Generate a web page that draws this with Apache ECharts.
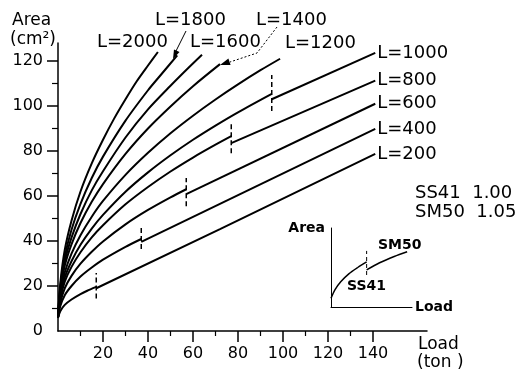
<!DOCTYPE html>
<html>
<head>
<meta charset="utf-8">
<script src="https://cdn.jsdelivr.net/npm/echarts@6/dist/echarts.min.js"></script>
<style>
  html, body { margin: 0; padding: 0; background: #fff; }
  #chart { width: 520px; height: 377px; }
</style>
</head>
<body>
<div id="chart"></div>
<script>
// values: [load (ton), area (cm2)]
const l2000 = [[0, 6], [1, 21], [3, 36], [6, 49], [10, 62], [15, 74.5], [20, 85], [25, 94.5], [30, 103], [35, 111], [40, 118], [44.4, 124]];
const l1800 = [[0, 6], [1, 19.5], [3, 33], [6, 45], [10, 56.5], [15, 68], [20, 77.5], [30, 93.5], [40, 107], [45, 113], [53, 122.5]];
const l1600 = [[0, 6], [1, 18.5], [3, 31], [6, 41.5], [10, 52], [15, 62.5], [20, 71], [30, 86], [40, 98.5], [50, 109], [58, 117], [64, 122.8]];
const l1400 = [[0, 6], [1, 17.5], [3, 29], [6, 38.5], [10, 48], [15, 57.4], [20, 65.3], [30, 78.7], [40, 90], [50, 99.8], [60, 108.8], [72, 118.6]];
const l1200 = [[0, 6], [1, 16.5], [3, 26], [6, 34.4], [10, 42.6], [15, 50.8], [20, 57.8], [30, 69.4], [40, 79.2], [50, 87.9], [60, 95.7], [70, 102.9], [80, 109.6], [90, 115.9], [98.7, 121]];

// curves with a material change (SS41 -> SM50): before and after the jump
const l1000a = [[0, 6], [1, 15], [3, 23.7], [6, 31], [10, 38.3], [15, 45.5], [20, 51.6], [30, 61.9], [40, 70.5], [50, 78.1], [60, 85], [70, 91.3], [80, 97.2], [95, 105.4]];
const l1000b = [[95, 103], [141, 123.6]];
const l800a = [[0, 6], [1, 14], [3, 21.9], [6, 28.5], [10, 35], [15, 41.6], [20, 47], [30, 56.3], [40, 64], [50, 70.9], [60, 77.1], [70, 82.8], [77, 86.6]];
const l800b = [[77, 83.5], [141, 111.3]];
const l600a = [[0, 6], [1, 12.5], [3, 19], [6, 24.5], [10, 29.9], [15, 35.2], [20, 39.8], [30, 47.4], [40, 53.8], [50, 59.4], [57, 63]];
const l600b = [[57, 60.8], [141, 101]];
const l400a = [[0, 6], [1, 11], [3, 15.9], [6, 20], [10, 24.2], [15, 28.2], [20, 31.7], [30, 37.4], [37, 40.9]];
const l400b = [[37, 39.6], [141, 89.8]];
const l200a = [[0, 5.8], [1, 8.8], [3, 11.6], [6, 14], [10, 16.4], [13, 17.9], [17, 19.6]];
const l200b = [[17, 19], [72, 45.3], [141, 78.7]];

// dashed marks at the jumps
const jumpLoad = [17, 37, 57, 77, 95];
const jumpLow = [14.5, 36.5, 55.5, 79, 97.8];
const jumpHigh = [25.8, 46.7, 68, 92.4, 113.8];

const xTicks = [20, 40, 60, 80, 100, 120, 140];
const xMinor = [10, 30, 50, 70, 90, 110, 130];
const yTicks = [20, 40, 60, 80, 100, 120];
const yLabels = [0, 20, 40, 60, 80, 100, 120];
const yMinor = [10, 30, 50, 70, 90, 110];

// small sketch in the corner (arbitrary units)
const insetSS41 = [[0, 1.1], [0.5, 2.2], [1.2, 3.2], [2.2, 4.2], [3.3, 5], [4.4, 5.7]];
const insetSM50 = [[4.4, 4.7], [6, 5.6], [7.8, 6.4], [9.4, 7]];
const insetJump = [[4.4, 4.05], [4.4, 7.1]];

const FONT = "DejaVu Sans";
const black = "#000";

const curve = (data, extra) => Object.assign({
  type: "line",
  data: data,
  showSymbol: false,
  smooth: 0.3,
  lineStyle: { color: black, width: 2 },
  silent: true,
}, extra || {});

const straight = (data, txt) => ({
  type: "line",
  data: data,
  showSymbol: false,
  lineStyle: { color: black, width: 2 },
  silent: true,
  endLabel: {
    show: true,
    formatter: txt,
    distance: 2,
    color: black,
    fontSize: 18,
    fontFamily: FONT,
  },
});

const series = [
  curve(l2000), curve(l1800), curve(l1600), curve(l1400), curve(l1200),
  curve(l1000a), straight(l1000b, "L=1000"),
  curve(l800a), straight(l800b, "L=800"),
  curve(l600a), straight(l600b, "L=600"),
  curve(l400a), straight(l400b, "L=400"),
  curve(l200a), straight(l200b, "L=200"),
];

jumpLoad.forEach((x, i) => {
  series.push({
    type: "line",
    data: [[x, jumpLow[i]], [x, jumpHigh[i]]],
    showSymbol: false,
    lineStyle: { color: black, width: 1.5, type: [5, 3] },
  });
});

series.push(curve(insetSS41, { xAxisIndex: 2, yAxisIndex: 2, lineStyle: { color: black, width: 1.5 } }));
series.push(curve(insetSM50, { xAxisIndex: 2, yAxisIndex: 2, lineStyle: { color: black, width: 1.5 } }));
series.push({
  type: "line", data: insetJump, showSymbol: false, xAxisIndex: 2, yAxisIndex: 2,
  lineStyle: { color: black, width: 1, type: [4, 3] },
});

const txt = (text, x, y, size, weight) => ({
  type: "text",
  x: x,
  y: y,
  style: {
    text: text,
    fill: black,
    fontSize: size,
    fontFamily: FONT,
    fontWeight: weight || "normal",
    verticalAlign: "middle",
    textVerticalAlign: "middle",
  },
});

const option = {
  animation: false,
  backgroundColor: "#fff",
  grid: [
    { left: 58, top: 43, width: 369, height: 288 },
    { left: 331, top: 228, width: 81, height: 79 },
  ],
  xAxis: [
    {
      type: "value", gridIndex: 0, position: "bottom", min: 0, max: 164,
      axisLine: { lineStyle: { color: black, width: 1.5 } },
      axisTick: { customValues: xTicks, length: 11, lineStyle: { color: black, width: 1.5 } },
      axisLabel: { customValues: xTicks, margin: 15, color: black, fontSize: 16, fontFamily: FONT },
      splitLine: { show: false },
    },
    {
      type: "value", gridIndex: 0, position: "bottom", min: 0, max: 164,
      axisLine: { show: false },
      axisTick: { customValues: xMinor, length: 5, lineStyle: { color: black, width: 1.2 } },
      axisLabel: { show: false },
      splitLine: { show: false },
    },
    {
      type: "value", gridIndex: 1, min: 0, max: 10,
      axisLine: { lineStyle: { color: black, width: 1 } },
      axisTick: { show: false }, axisLabel: { show: false }, splitLine: { show: false },
      name: "Load", nameLocation: "end", nameGap: 3,
      nameTextStyle: { color: black, fontSize: 14, fontWeight: "bold", fontFamily: FONT },
    },
  ],
  yAxis: [
    {
      type: "value", gridIndex: 0, position: "left", min: 0, max: 128,
      axisLine: { lineStyle: { color: black, width: 1.5 } },
      axisTick: { customValues: yTicks, length: 11, lineStyle: { color: black, width: 1.5 } },
      axisLabel: { customValues: yLabels, margin: 15, color: black, fontSize: 16, fontFamily: FONT },
      splitLine: { show: false },
    },
    {
      type: "value", gridIndex: 0, position: "left", min: 0, max: 128,
      axisLine: { show: false },
      axisTick: { customValues: yMinor, length: 6, lineStyle: { color: black, width: 1.2 } },
      axisLabel: { show: false },
      splitLine: { show: false },
    },
    {
      type: "value", gridIndex: 1, min: 0, max: 10,
      axisLine: { lineStyle: { color: black, width: 1 } },
      axisTick: { show: false }, axisLabel: { show: false }, splitLine: { show: false },
      name: "Area", nameLocation: "end", nameGap: 0,
      nameTextStyle: { color: black, fontSize: 14, fontWeight: "bold", fontFamily: FONT, align: "right", verticalAlign: "middle", padding: [0, 6, 0, 0] },
    },
  ],
  series: series,
  graphic: [
    txt("Area", 12, 21, 17),
    txt("(cm²)", 10, 40, 17),
    txt("Load", 418, 345, 17),
    txt("(ton )", 417, 363, 17),
    txt("L=2000", 97, 42, 18),
    txt("L=1800", 155, 20, 18),
    txt("L=1600", 190, 42, 18),
    txt("L=1400", 256, 20, 18),
    txt("L=1200", 285, 43, 18),
    txt("SS41  1.00", 415, 193, 18),
    txt("SM50  1.05", 415, 212, 18),
    txt("SM50", 378, 245, 14, "bold"),
    txt("SS41", 347, 286, 14, "bold"),
    {
      type: "line",
      shape: { x1: 186, y1: 31, x2: 175, y2: 53 },
      style: { stroke: black, lineWidth: 1 },
    },
    {
      type: "polygon",
      shape: { points: [[173, 59], [179.5, 52], [174, 49.5]] },
      style: { fill: black },
    },
    {
      type: "polyline",
      shape: { points: [[277, 27], [257, 53], [230, 62]] },
      style: { stroke: black, lineWidth: 1, lineDash: [2, 2] },
    },
    {
      type: "polygon",
      shape: { points: [[220, 65], [230.6, 65.1], [228.4, 58.5]] },
      style: { fill: black },
    },
  ],
};

const chart = echarts.init(document.getElementById("chart"));
chart.setOption(option);
</script>
</body>
</html>
